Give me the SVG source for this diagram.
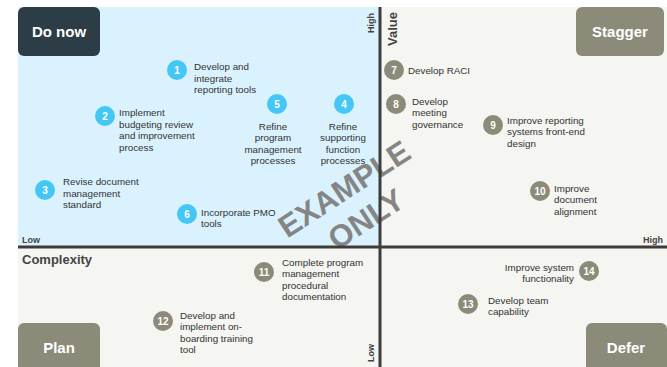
<svg xmlns="http://www.w3.org/2000/svg" width="667" height="367" viewBox="0 0 667 367">
<style>
.lbl{font-family:"Liberation Sans",Arial,sans-serif;font-size:9.8px;fill:#333}
.num{font-family:"Liberation Sans",Arial,sans-serif;font-size:10px;font-weight:bold;fill:#fff;text-anchor:middle}
.blue{fill:#45c7f5}
.gray{fill:#8c8b7a}
.qbox{font-family:"Liberation Sans",Arial,sans-serif;font-size:15px;font-weight:bold;fill:#fff;text-anchor:middle}
.axis{font-family:"Liberation Sans",Arial,sans-serif;font-weight:bold;fill:#444}
.wm{font-family:"Liberation Sans",Arial,sans-serif;font-size:31px;font-weight:bold;fill:#858585;text-anchor:middle}
</style>
<rect x="0" y="0" width="667" height="367" fill="#fff"/>
<rect x="18" y="7" width="362" height="240" fill="#daf2fd"/>
<rect x="380" y="7" width="287" height="240" fill="#f5f5f1"/>
<rect x="18" y="247" width="649" height="120" fill="#f5f5f1"/>

<g id="quadrant-labels">
<g id="do-now"><rect x="18" y="7" width="82" height="49" rx="6" fill="#2c3d47"/><text class="qbox" x="59" y="37">Do now</text></g>
<g id="stagger"><rect x="576" y="7" width="88" height="49" rx="6" fill="#8c8b7a"/><text class="qbox" x="620" y="37">Stagger</text></g>
<g id="plan"><rect x="18" y="323" width="82" height="60" rx="6" fill="#8c8b7a"/><text class="qbox" x="59" y="353">Plan</text></g>
<g id="defer"><rect x="586" y="323" width="81" height="60" rx="6" fill="#8c8b7a"/><text class="qbox" x="626" y="353">Defer</text></g>
</g>

<g id="watermark">
<text class="wm" transform="translate(350,198) rotate(-33)">EXAMPLE</text>
<text class="wm" transform="translate(372,228) rotate(-33)">ONLY</text>
</g>

<g id="connectors">
<line x1="380" y1="7" x2="380" y2="367" stroke="#3c3c3c" stroke-width="3"/>
<line x1="18" y1="247" x2="667" y2="247" stroke="#3c3c3c" stroke-width="3"/>
</g>

<g id="axis-labels">
<text class="axis" font-size="9" text-anchor="middle" transform="translate(374,23) rotate(-90)">High</text>
<text class="axis" font-size="13" text-anchor="middle" transform="translate(397,29) rotate(-90)">Value</text>
<text class="axis" font-size="9" text-anchor="middle" transform="translate(374,353) rotate(-90)">Low</text>
<text class="axis" font-size="9" x="22" y="243">Low</text>
<text class="axis" font-size="9" x="643" y="243">High</text>
<text class="axis" font-size="13" x="22" y="264">Complexity</text>
</g>

<g id="n1"><circle class="blue" cx="177" cy="70" r="10"/><text class="num" x="177" y="74">1</text><text class="lbl" x="194"><tspan x="194" y="70">Develop and</tspan><tspan x="194" y="81.5">integrate</tspan><tspan x="194" y="93">reporting tools</tspan></text></g>
<g id="n2"><circle class="blue" cx="105" cy="116" r="10"/><text class="num" x="105" y="120">2</text><text class="lbl"><tspan x="119" y="116">Implement</tspan><tspan x="119" y="127.5">budgeting review</tspan><tspan x="119" y="139">and improvement</tspan><tspan x="119" y="150.5">process</tspan></text></g>
<g id="n3"><circle class="blue" cx="45" cy="190" r="10"/><text class="num" x="45" y="194">3</text><text class="lbl"><tspan x="63" y="185">Revise document</tspan><tspan x="63" y="196.5">management</tspan><tspan x="63" y="208">standard</tspan></text></g>
<g id="n4"><circle class="blue" cx="344" cy="104" r="10"/><text class="num" x="344" y="108">4</text><text class="lbl" text-anchor="middle"><tspan x="343" y="129.5">Refine</tspan><tspan x="343" y="141">supporting</tspan><tspan x="343" y="152.5">function</tspan><tspan x="343" y="164">processes</tspan></text></g>
<g id="n5"><circle class="blue" cx="277" cy="104" r="10"/><text class="num" x="277" y="108">5</text><text class="lbl" text-anchor="middle"><tspan x="273" y="129.5">Refine</tspan><tspan x="273" y="141">program</tspan><tspan x="273" y="152.5">management</tspan><tspan x="273" y="164">processes</tspan></text></g>
<g id="n6"><circle class="blue" cx="187" cy="214" r="10"/><text class="num" x="187" y="218">6</text><text class="lbl"><tspan x="201" y="215.5">Incorporate PMO</tspan><tspan x="201" y="227">tools</tspan></text></g>
<g id="n7"><circle class="gray" cx="394" cy="70" r="10"/><text class="num" x="394" y="74">7</text><text class="lbl" x="408" y="73.5">Develop RACI</text></g>
<g id="n8"><circle class="gray" cx="396" cy="104" r="10"/><text class="num" x="396" y="108">8</text><text class="lbl"><tspan x="412" y="104.5">Develop</tspan><tspan x="412" y="116">meeting</tspan><tspan x="412" y="127.5">governance</tspan></text></g>
<g id="n9"><circle class="gray" cx="493" cy="125" r="10"/><text class="num" x="493" y="129">9</text><text class="lbl"><tspan x="507" y="123.5">Improve reporting</tspan><tspan x="507" y="135">systems front-end</tspan><tspan x="507" y="146.5">design</tspan></text></g>
<g id="n10"><circle class="gray" cx="540" cy="191" r="10"/><text class="num" x="540" y="195">10</text><text class="lbl"><tspan x="554" y="191.5">Improve</tspan><tspan x="554" y="203">document</tspan><tspan x="554" y="214.5">alignment</tspan></text></g>
<g id="n11"><circle class="gray" cx="264" cy="272" r="10"/><text class="num" x="264" y="276">11</text><text class="lbl"><tspan x="282" y="265.5">Complete program</tspan><tspan x="282" y="277">management</tspan><tspan x="282" y="288.5">procedural</tspan><tspan x="282" y="300">documentation</tspan></text></g>
<g id="n12"><circle class="gray" cx="163" cy="321" r="10"/><text class="num" x="163" y="325">12</text><text class="lbl"><tspan x="180" y="318.5">Develop and</tspan><tspan x="180" y="330">implement on-</tspan><tspan x="180" y="341.5">boarding training</tspan><tspan x="180" y="353">tool</tspan></text></g>
<g id="n13"><circle class="gray" cx="468" cy="304" r="10"/><text class="num" x="468" y="308">13</text><text class="lbl"><tspan x="488" y="303.5">Develop team</tspan><tspan x="488" y="315">capability</tspan></text></g>
<g id="n14"><circle class="gray" cx="589" cy="271" r="10"/><text class="num" x="589" y="275">14</text><text class="lbl" text-anchor="end"><tspan x="574" y="270.5">Improve system</tspan><tspan x="574" y="282">functionality</tspan></text></g>
</svg>
